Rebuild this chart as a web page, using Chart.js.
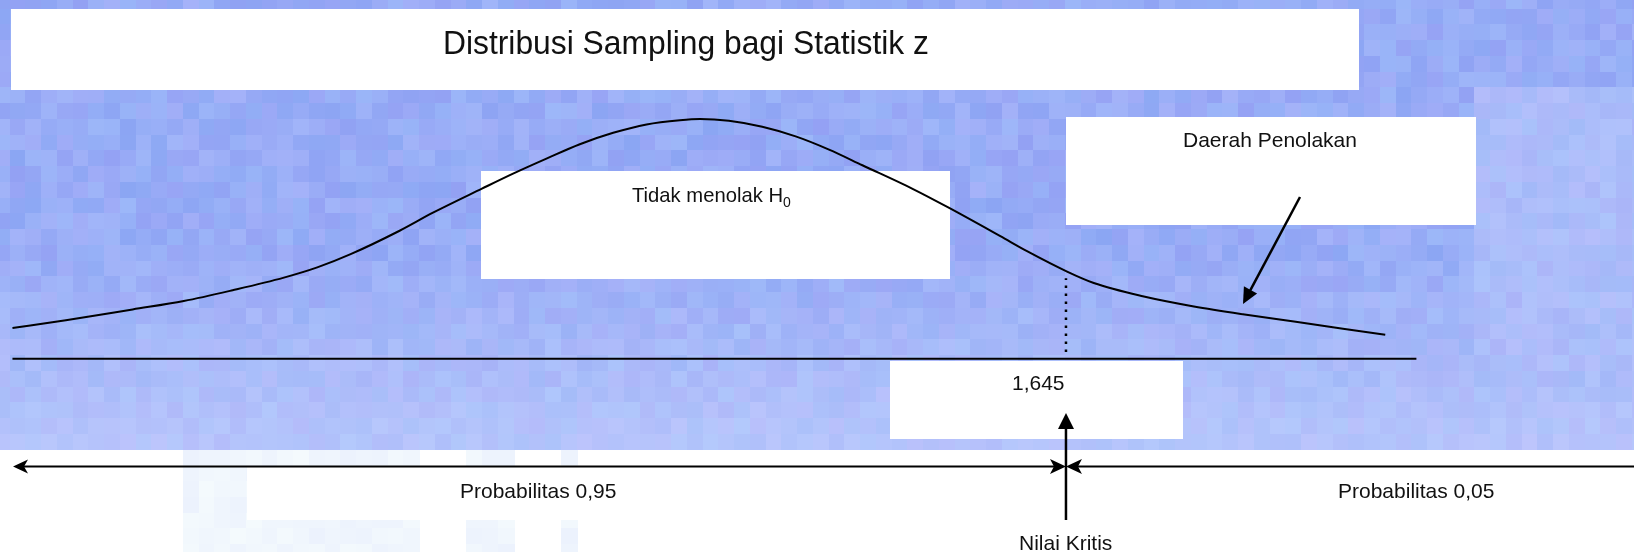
<!DOCTYPE html>
<html>
<head>
<meta charset="utf-8">
<script src="https://cdn.jsdelivr.net/npm/chart.js@4.4.0/dist/chart.umd.min.js"></script>
<style>
html, body { margin: 0; padding: 0; background: #fff; }
#chart { display: block; }
</style>
</head>
<body>
<canvas id="chart" width="1634" height="552"></canvas>
<script>
// curve: z and height of the density
const curveZ = [-3.09, -2.85, -2.55, -2.32, -2.10, -1.87, -1.72, -1.57, -1.35, -1.20, -0.98, -0.84, -0.69, -0.54, -0.39, -0.24, -0.09, 0, 0.13, 0.28, 0.43, 0.58, 0.73, 0.96, 1.12, 1.35, 1.47, 1.65, 1.77, 1.99, 2.22, 2.44, 2.67, 2.89, 3.08]
const curveY = [0.051, 0.064, 0.082, 0.096, 0.114, 0.135, 0.152, 0.174, 0.213, 0.243, 0.283, 0.308, 0.333, 0.357, 0.376, 0.390, 0.397, 0.399, 0.396, 0.386, 0.370, 0.348, 0.322, 0.282, 0.251, 0.204, 0.179, 0.145, 0.126, 0.104, 0.087, 0.074, 0.062, 0.050, 0.040]
// horizontal axis line
const baseZ = [-3.09, 3.22]
// critical value and the dotted marker
const criticalZ = 1.645
const criticalLine = [0.011, 0.134]

const titleText = "Distribusi Sampling bagi Statistik z"
const acceptText = "Tidak menolak H"
const rejectText = "Daerah Penolakan"
const criticalText = "1,645"
const probTexts = ["Probabilitas 0,95", "Probabilitas 0,05"]
const criticalName = "Nilai Kritis"

const FONT = '"Liberation Sans", Arial, sans-serif'
const TILE = 15.75

function hash(i, j, k) {
    const s = Math.sin(i * 127.1 + j * 311.7 + k * 74.7) * 43758.5453
    return s - Math.floor(s)
}

function faintColumn(cx) {
    return (cx > 183 && cx < 422) || (cx > 468 && cx < 517) || (cx > 565 && cx < 582)
}

function tileColor(cx, cy, i, j) {
    const h1 = hash(i, j, 1)
    const h2 = hash(i, j, 2)
    if (cy >= 450) {
        if (!faintColumn(cx)) return null
        const v = h1 * 8
        return `rgb(${Math.round(236 + v)},${Math.round(242 + v)},253)`
    }
    let t = Math.min(1, Math.max(0, (cy - 250) / 180))
    if (cx > 1480 && cy > 90) t = Math.max(t, 0.7)
    const r = 152 + 28 * t, g = 172 + 23 * t, b = 246 + 5 * t
    const v = (h1 - 0.5) * 18 * (1 - 0.5 * t)
    const hue = (h2 - 0.5) * 9
    const c = (x) => Math.round(Math.max(0, Math.min(255, x)))
    return `rgb(${c(r + v - hue)},${c(g + v + hue * 0.6)},${c(b + v * 0.3)})`
}

function drawText(ctx, str, x, y, size, maxW) {
    ctx.font = `${size}px ${FONT}`
    ctx.fillStyle = "#111"
    ctx.textAlign = "left"
    ctx.textBaseline = "alphabetic"
    if (maxW) ctx.fillText(str, x, y, maxW)
    else ctx.fillText(str, x, y)
}

function arrowHead(ctx, tx, ty, angle, len, halfW, notch) {
    ctx.save()
    ctx.translate(tx, ty)
    ctx.rotate(angle)
    ctx.beginPath()
    ctx.moveTo(0, 0)
    ctx.lineTo(-len, -halfW)
    ctx.lineTo(-len + notch, 0)
    ctx.lineTo(-len, halfW)
    ctx.closePath()
    ctx.fillStyle = "#000"
    ctx.fill()
    ctx.restore()
}

function line(ctx, x1, y1, x2, y2, w) {
    ctx.beginPath()
    ctx.moveTo(x1, y1)
    ctx.lineTo(x2, y2)
    ctx.lineWidth = w
    ctx.strokeStyle = "#000"
    ctx.stroke()
}

const backgroundPlugin = {
    id: "slideBackground",
    beforeDraw(chart) {
        const ctx = chart.ctx
        const W = chart.width, H = chart.height
        ctx.save()
        ctx.fillStyle = "#fff"
        ctx.fillRect(0, 0, W, H)
        for (let j = -1; j * TILE + 9 < H; j++) {
            for (let i = -1; i * TILE + 10 < W; i++) {
                const x = 10 + i * TILE, y = 9 + j * TILE
                const col = tileColor(x + TILE / 2, y + TILE / 2, i, j)
                if (!col) continue
                ctx.fillStyle = col
                let y2 = y + TILE
                if (y < 450 && y2 > 450) y2 = 450
                ctx.fillRect(Math.floor(x), Math.floor(y), Math.ceil(TILE) + 1, Math.ceil(y2 - Math.floor(y)))
            }
        }
        // white band at the bottom
        ctx.fillStyle = "#fff"
        ctx.fillRect(247, 467, 800, 53)

        // white text boxes
        ctx.fillRect(11, 9, 1348, 81)
        ctx.fillRect(481, 171, 469, 108)
        ctx.fillRect(1066, 117, 410, 108)
        ctx.fillRect(890, 361, 293, 78)

        drawText(ctx, titleText, 443, 54, 34, 486)
        drawText(ctx, acceptText, 632, 202, 21, 151)
        ctx.font = `21px ${FONT}`
        const w = Math.min(151, ctx.measureText(acceptText).width)
        drawText(ctx, "0", 632 + w, 207, 14)
        drawText(ctx, rejectText, 1183, 147, 21, 176)
        drawText(ctx, criticalText, 1012, 390, 21)
        ctx.restore()
    }
}

const overlayPlugin = {
    id: "overlay",
    afterDraw(chart) {
        const ctx = chart.ctx
        const xs = chart.scales.x
        const cx = xs.getPixelForValue(criticalZ)
        ctx.save()
        // probability arrows
        const ay = 466.5
        line(ctx, 20, ay, cx - 10, ay, 2)
        line(ctx, cx + 10, ay, chart.width, ay, 2)
        arrowHead(ctx, 13, ay, Math.PI, 15, 7, 4)
        arrowHead(ctx, cx, ay, 0, 16, 7.5, 4)
        arrowHead(ctx, cx, ay, Math.PI, 16, 7.5, 4)
        // critical value arrow
        line(ctx, cx, 520, cx, 425, 2.5)
        arrowHead(ctx, cx, 413, -Math.PI / 2, 16, 8, 0)
        // rejection region arrow
        const x1 = 1300, y1 = 197, x2 = 1243, y2 = 304
        const ang = Math.atan2(y2 - y1, x2 - x1)
        line(ctx, x1, y1, x2 - 12 * Math.cos(ang), y2 - 12 * Math.sin(ang), 2.5)
        arrowHead(ctx, x2, y2, ang, 16, 7.5, 0)

        drawText(ctx, probTexts[0], 460, 498, 21, 158)
        drawText(ctx, probTexts[1], 1338, 498, 21, 159)
        drawText(ctx, criticalName, 1019, 550, 21, 94)
        ctx.restore()
    }
}

const ctx = document.getElementById("chart").getContext("2d")
new Chart(ctx, {
    type: "line",
    data: {
        datasets: [
            {
                data: curveZ.map((z, i) => ({ x: z, y: curveY[i] })),
                borderColor: "#000",
                borderWidth: 2,
                pointRadius: 0,
                cubicInterpolationMode: "monotone",
                fill: false
            },
            {
                data: baseZ.map(z => ({ x: z, y: 0 })),
                borderColor: "#000",
                borderWidth: 2,
                pointRadius: 0
            },
            {
                data: criticalLine.map(y => ({ x: criticalZ, y: y })),
                borderColor: "#000",
                borderWidth: 2.5,
                borderDash: [2.5, 5.5],
                pointRadius: 0
            }
        ]
    },
    options: {
        responsive: false,
        animation: false,
        devicePixelRatio: 1,
        events: [],
        layout: { padding: 0 },
        plugins: {
            legend: { display: false },
            tooltip: { enabled: false },
            title: { display: false }
        },
        scales: {
            x: { type: "linear", display: false, min: -3.146, max: 4.198 },
            y: { type: "linear", display: false, min: -0.3218, max: 0.5971 }
        }
    },
    plugins: [backgroundPlugin, overlayPlugin]
})
</script>
</body>
</html>
